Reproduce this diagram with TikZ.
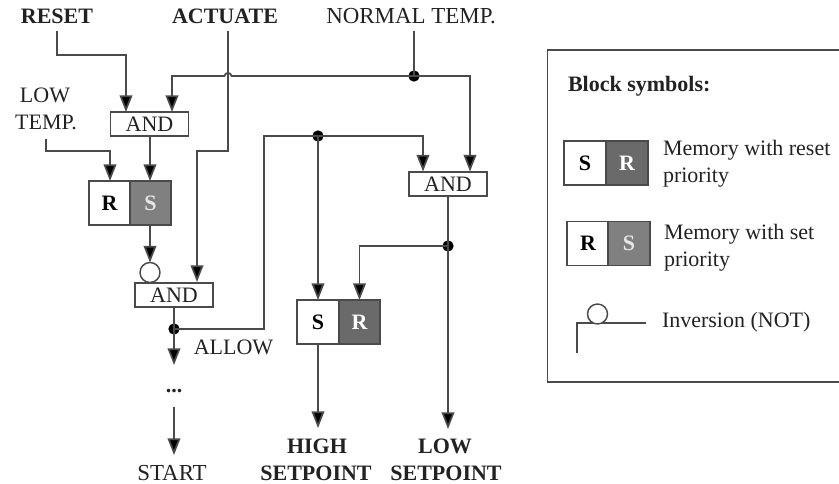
\documentclass[tikz,border=0pt]{standalone}
\usepackage{fontspec}
\setmainfont{Liberation Serif}
\usetikzlibrary{arrows.meta}
\definecolor{ln}{HTML}{4A4A4A}
\definecolor{txt}{HTML}{222222}
\definecolor{darkR}{HTML}{6A6A6A}
\definecolor{darkS}{HTML}{808080}
\tikzset{
  x=0.75pt,y=-0.75pt,
  every node/.style={text=txt,font=\fontsize{16.5}{20}\selectfont,inner sep=0pt,outer sep=0pt},
  wire/.style={draw=ln,line width=1.3pt},
  flow/.style={wire,-{Triangle[length=12.5pt,width=9.5pt,fill=black]}},
  andbox/.style={draw=ln,line width=1.3pt,fill=white,minimum width=58.5pt,minimum height=18.5pt},
  halfw/.style={draw=ln,line width=1.3pt,fill=white,minimum width=31pt,minimum height=33pt,font=\fontsize{16.5}{20}\selectfont\bfseries,text=black},
  halfR/.style={halfw,fill=darkR,text=white},
  halfS/.style={halfw,fill=darkS,text=white!90!black},
  jdot/.style={circle,fill=black,minimum size=8.5pt},
  inv/.style={circle,draw=ln,line width=1.1pt,fill=white,minimum size=15pt},
  bold/.style={font=\fontsize{16.5}{20}\selectfont\bfseries},
  widecap/.style={font=\fontsize{17.2}{20}\selectfont},
  lbl/.style={anchor=west},
}
\begin{document}
\begin{tikzpicture}
\useasboundingbox (0,0) rectangle (839,484);
\clip (0,0) rectangle (839,484);
% labels
\node[bold] (reset) at (57,16) {RESET};
\node[bold] (actuate) at (225,16) {ACTUATE};
\node[widecap] (normal) at (411,16) {NORMAL TEMP.};
\node (low) at (45,95) {LOW};
\node (temp) at (46,122) {TEMP.};
\node (allow) at (233.5,347) {ALLOW};
\node[widecap] (start) at (172,473) {START};
\node[bold] (high) at (317,446) {HIGH};
\node[bold] (sp1) at (316,473) {SETPOINT};
\node[bold] (lowsp) at (445,446) {LOW};
\node[bold] (sp2) at (446,473) {SETPOINT};
\node[font=\fontsize{16.5}{20}\selectfont\bfseries] (dots) at (174,391) {...};
% blocks
\node[andbox] (and1) at (149.5,124) {AND};
\node[andbox] (and2) at (174,295) {AND};
\node[andbox] (and3) at (448,184) {AND};
\node[halfw] (r1) at (109.5,203) {R};
\node[halfS] (s1) at (150.5,203) {S};
\node[halfw] (s2) at (318,322) {S};
\node[halfR] (r2) at (359.5,322) {R};
\node[inv] (not1) at (150,272.5) {};
% free ends and junctions
\coordinate (c1) at (57,31);
\coordinate (c2) at (228,31);
\coordinate (c3) at (414,31);
\coordinate (c4) at (46,139);
\coordinate (e1) at (174,365);
\coordinate (e2) at (174,407);
\coordinate (e3) at (174,455);
\coordinate (e4) at (318,428);
\coordinate (e5) at (448,429);
\node[jdot] (j1) at (414,76) {};
\node[jdot] (j2) at (174,329) {};
\node[jdot] (j3) at (318,136) {};
\node[jdot] (j4) at (448,246) {};
% connectors
\draw[flow] (c1) |- (126,55) -- (126,112);
\draw[flow] (j1.center) -- (231.5,76) .. controls (231,72) and (225,72) .. (224.5,76) -- (172,76) -- (172,112);
\draw[flow] (c2) -- (228,151) -- (197,151) -- (197,282);
\draw[flow] (j1.center) -| (470,171.5);
\draw[wire] (c3) -- (j1.center);
\draw[flow] (c4) |- (110,151) -- (110,181);
\draw[flow] (not1 |- and1.south) -- (not1 |- s1.north);
\draw[flow] (not1 |- s1.south) -- (not1.north);
\draw[wire] (and2.south) -- (j2.center);
\draw[flow] (j2.center) -- (e1);
\draw[flow] (e2) -- (e3);
\draw[wire] (j2.center) -| (264,136) -- (j3.center);
\draw[flow] (j3.center) -| (423,171.5);
\draw[flow] (j3.center) -- (s2.north);
\draw[wire] (and3.south) -- (j4.center);
\draw[flow] (j4.center) -| (r2.north);
\draw[flow] (j4.center) -- (e5);
\draw[flow] (s2.south) -- (e4);
% legend
\draw[draw=ln,line width=1.1pt] (547.5,50) rectangle (850,382);
\node[bold,lbl] (ltitle) at (568,86) {Block symbols:};
\node[halfw] (ls1) at (585,163) {S};
\node[halfR] (lr1) at (627,163) {R};
\node[halfw] (lr2) at (588,243.5) {R};
\node[halfS] (ls2) at (629,243.5) {S};
\node[lbl] (t1) at (663,150) {Memory with reset};
\node[lbl] (t2) at (663,178) {priority};
\node[lbl] (t3) at (664,234) {Memory with set};
\node[lbl] (t4) at (664,262) {priority};
\node[lbl] (t5) at (662,322) {Inversion (NOT)};
\coordinate (n1) at (577,353);
\coordinate (n2) at (646,323);
\draw[wire] (n1) |- (n2);
\node[inv] (lnot) at (597.5,314) {};
\end{tikzpicture}
\end{document}
